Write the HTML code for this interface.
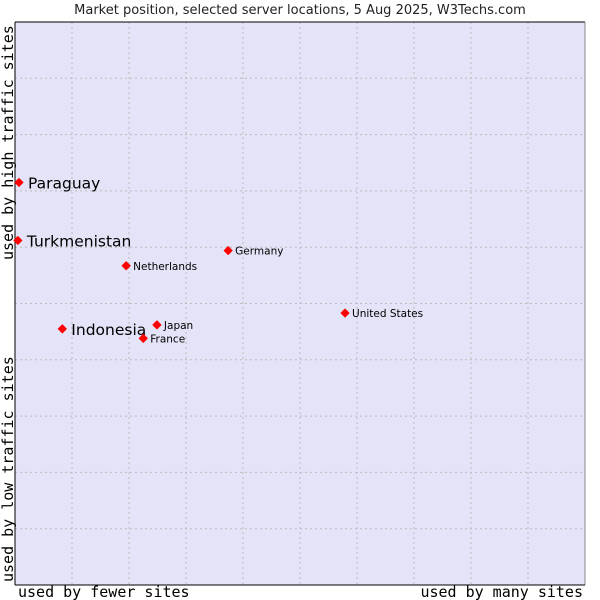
<!DOCTYPE html>
<html><head><meta charset="utf-8"><style>
body{margin:0;background:#fff;}
svg{display:block;font-family:"DejaVu Sans","Liberation Sans",sans-serif;}
</style></head><body>
<svg id="chart" width="600" height="600">
<text x="300" y="14" text-anchor="middle" font-size="13" fill="#222">Market position, selected server locations, 5 Aug 2025, W3Techs.com</text>
<rect x="15" y="22" width="570" height="563" fill="#e3e4f8"/>
<g id="grid"></g>
<line x1="15" y1="22" x2="585" y2="22" stroke="#000"/>
<line x1="585" y1="22" x2="585" y2="585" stroke="#888"/>
<line x1="15" y1="22" x2="15" y2="585" stroke="#000"/>
<line x1="15" y1="585" x2="585" y2="585" stroke="#000"/>
<g font-family="'DejaVu Sans Mono','Liberation Mono',monospace" font-size="15" fill="#000">
<text x="18" y="597">used by fewer sites</text>
<text x="583" y="597" text-anchor="end">used by many sites</text>
<text transform="translate(13,260) rotate(-90)">used by high traffic sites</text>
<text transform="translate(13,582) rotate(-90)">used by low traffic sites</text>
</g>
<g id="points"></g>
</svg>
<script>
const countries=["Paraguay","Turkmenistan","Netherlands","Germany","United States","Indonesia","Japan","France"];
const xValues=[0.7,0.5,19.5,37.4,57.9,8.3,24.9,22.5];
const yValues=[71.5,61.2,56.7,59.4,48.3,45.5,46.2,43.8];
const bigLabel=[true,true,false,false,false,true,false,false];
const gridTicks=[10,20,30,40,50,60,70,80,90];
const NS="http://www.w3.org/2000/svg";
const X0=15,X1=585,Y0=585,Y1=22;
const xs=v=>X0+(X1-X0)*v/100;
const ys=v=>Y0-(Y0-Y1)*v/100;
const grid=document.getElementById('grid');
gridTicks.forEach(t=>{
  const v=document.createElementNS(NS,'line');
  v.setAttribute('x1',xs(t));v.setAttribute('x2',xs(t));v.setAttribute('y1',Y1);v.setAttribute('y2',Y0);
  v.setAttribute('stroke','#bbb');v.setAttribute('stroke-dasharray','2,3');
  
  
  grid.appendChild(v);
  const h=document.createElementNS(NS,'line');
  h.setAttribute('x1',X0);h.setAttribute('x2',X1);h.setAttribute('y1',ys(t));h.setAttribute('y2',ys(t));
  h.setAttribute('stroke','#bbb');h.setAttribute('stroke-dasharray','2,3');
  
  
  grid.appendChild(h);
});
const pts=document.getElementById('points');
countries.forEach((c,i)=>{
  const cx=xs(xValues[i]),cy=ys(yValues[i]);
  const d=document.createElementNS(NS,'path');
  d.setAttribute('d',`M${cx-4},${cy} L${cx},${cy-4} L${cx+4},${cy} L${cx},${cy+4} Z`);
  d.setAttribute('fill','#f00');
  d.setAttribute('stroke','#f00');d.setAttribute('stroke-width','1');d.setAttribute('stroke-linejoin','round');
  
  
  pts.appendChild(d);
  const t=document.createElementNS(NS,'text');
  t.setAttribute('x',cx+(bigLabel[i]?9:7));
  t.setAttribute('y',cy+(bigLabel[i]?6:4));
  t.setAttribute('font-size',bigLabel[i]?15.5:10.5);
  t.setAttribute('fill','#000');
  t.textContent=c;
  
  
  pts.appendChild(t);
});
</script>
</body></html>
